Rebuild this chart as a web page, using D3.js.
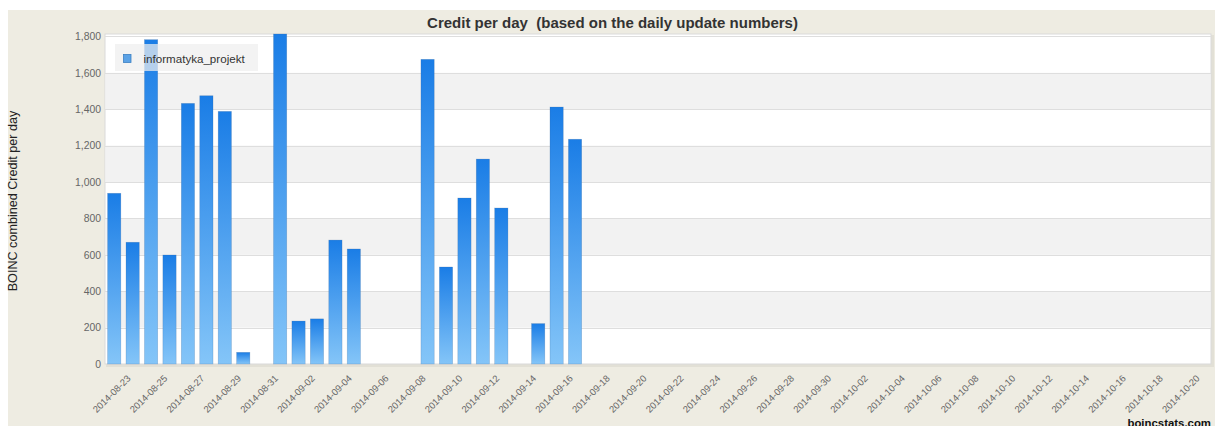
<!DOCTYPE html>
<html><head><meta charset="utf-8">
<script src="https://cdn.jsdelivr.net/npm/d3@7"></script>
<style>
body{margin:0;background:#fff;}
svg{display:block;font-family:"Liberation Sans",Arial,sans-serif;}
</style>
</head><body>
<svg id="c" width="1215" height="426"></svg>
<script>
// ---- data ----
const dates = ["2014-08-23","2014-08-24","2014-08-25","2014-08-26","2014-08-27","2014-08-28","2014-08-29","2014-08-30",
  "2014-09-01","2014-09-02","2014-09-03","2014-09-04","2014-09-05",
  "2014-09-09","2014-09-10","2014-09-11","2014-09-12","2014-09-13",
  "2014-09-15","2014-09-16","2014-09-17"];
const credits = [938,669,1782,599,1432,1474,1388,64,
  1815,236,248,681,632,
  1674,533,912,1126,857,
  222,1412,1235];
const firstDay = "2014-08-23";
const lastDay = "2014-10-21";
const yTicks = [0,200,400,600,800,1000,1200,1400,1600,1800];
const xTickLabels = ["2014-08-23","2014-08-25","2014-08-27","2014-08-29","2014-08-31","2014-09-02","2014-09-04","2014-09-06",
  "2014-09-08","2014-09-10","2014-09-12","2014-09-14","2014-09-16","2014-09-18","2014-09-20","2014-09-22","2014-09-24",
  "2014-09-26","2014-09-28","2014-09-30","2014-10-02","2014-10-04","2014-10-06","2014-10-08","2014-10-10","2014-10-12",
  "2014-10-14","2014-10-16","2014-10-18","2014-10-20"];
const seriesName = "informatyka_projekt";
const titleText = "Credit per day  (based on the daily update numbers)";
const yTitleText = "BOINC combined Credit per day";
const creditText = "boincstats.com";

// ---- layout ----
const svg = d3.select("#c");
const L = 105, R = 1211, T = 34, B = 364;
const fmt = d3.timeFormat("%Y-%m-%d"), parse = d3.timeParse("%Y-%m-%d");
const allDays = d3.timeDay.range(parse(firstDay), d3.timeDay.offset(parse(lastDay), 1)).map(fmt);

const x = d3.scaleBand().domain(allDays).range([L, R]).paddingInner(0.28).paddingOuter(0.14);
const y = d3.scaleLinear().domain([0, 1800]).range([B, 36.4]);

const defs = svg.append("defs");
const g = defs.append("linearGradient").attr("id","barGrad").attr("x1",0).attr("y1",0).attr("x2",0).attr("y2",1);
g.append("stop").attr("offset","0%").attr("stop-color","#1a7de6");
g.append("stop").attr("offset","100%").attr("stop-color","#84c5f8");

// background
svg.append("rect").attr("x",8).attr("y",10).attr("width",1207).attr("height",416).attr("fill","#eeece2");
// plot shadow + area
svg.append("rect").attr("x",L+1).attr("y",T+1).attr("width",R-L+2).attr("height",B-T+2).attr("fill","#e2e0d6");
svg.append("rect").attr("x",L).attr("y",T).attr("width",R-L).attr("height",B-T).attr("fill","#fff").attr("stroke","#d9d9d9");

// alternating bands
const bandPairs = yTicks.slice(0,-1).map((v,i)=>[v,yTicks[i+1]]).filter((p,i)=>i%2===1);
svg.append("g").selectAll("rect").data(bandPairs).join("rect")
  .attr("x",L+0.5).attr("width",R-L-1)
  .attr("y",d=>y(d[1])).attr("height",d=>y(d[0])-y(d[1]))
  .attr("fill","#f2f2f2");

// gridlines
svg.append("g").selectAll("line").data(yTicks.slice(1)).join("line")
  .attr("x1",L).attr("x2",R).attr("y1",d=>Math.round(y(d))+0.5).attr("y2",d=>Math.round(y(d))+0.5)
  .attr("stroke","#dedede");

// bars
const data = dates.map((d,i)=>({d, v:credits[i]}));
svg.append("g").selectAll("rect").data(data).join("rect")
  .attr("x",d=>x(d.d)).attr("width",x.bandwidth())
  .attr("y",d=>Math.max(T, y(d.v))).attr("height",d=>B-Math.max(T, y(d.v)))
  .attr("fill","url(#barGrad)")
  .attr("stroke","rgba(60,100,150,0.35)").attr("stroke-width",0.6);

// y axis labels
const yAxis = d3.axisLeft(y).tickValues(yTicks).tickFormat(d3.format(",")).tickSize(0).tickPadding(4);
const ya = svg.append("g").attr("transform",`translate(${L},0)`).call(yAxis);
ya.select(".domain").remove();
ya.selectAll("text").attr("font-size","10.4px").attr("fill","#666").attr("font-family","Liberation Sans, Arial, sans-serif");

// x axis labels
const xa = svg.append("g").attr("transform",`translate(0,${B})`)
  .call(d3.axisBottom(x).tickValues(xTickLabels).tickSize(0).tickPadding(0));
xa.select(".domain").remove();
xa.selectAll("text")
  .attr("font-size","9.5px").attr("fill","#666").attr("font-family","Liberation Sans, Arial, sans-serif")
  .attr("text-anchor","end").attr("dy",0).attr("y",0)
  .attr("transform","translate(17,15) rotate(-45)");

// legend
svg.append("rect").attr("x",115).attr("y",44).attr("width",143).attr("height",27)
  .attr("fill","#eeeeee").attr("fill-opacity",0.72);
svg.append("rect").attr("x",123.5).attr("y",54.5).attr("width",7.5).attr("height",8)
  .attr("fill","#5ba2e6").attr("stroke","#3b7fc2").attr("stroke-width",0.8);
svg.append("text").attr("x",143.5).attr("y",62.5).attr("font-size","11.6px").attr("fill","#333").text(seriesName);

// title
svg.append("text").attr("x",612.5).attr("y",28).attr("text-anchor","middle")
  .attr("font-size","15px").attr("font-weight","bold").attr("fill","#333")
  .style("white-space","pre").text(titleText);

// y title
svg.append("text").attr("transform","translate(17,201) rotate(-90)").attr("text-anchor","middle")
  .attr("font-size","12.6px").attr("fill","#222").text(yTitleText);

// credit
svg.append("text").attr("x",1211).attr("y",427).attr("text-anchor","end")
  .attr("font-size","11.4px").attr("font-weight","bold").attr("fill","#111").text(creditText);
</script>
</body></html>
